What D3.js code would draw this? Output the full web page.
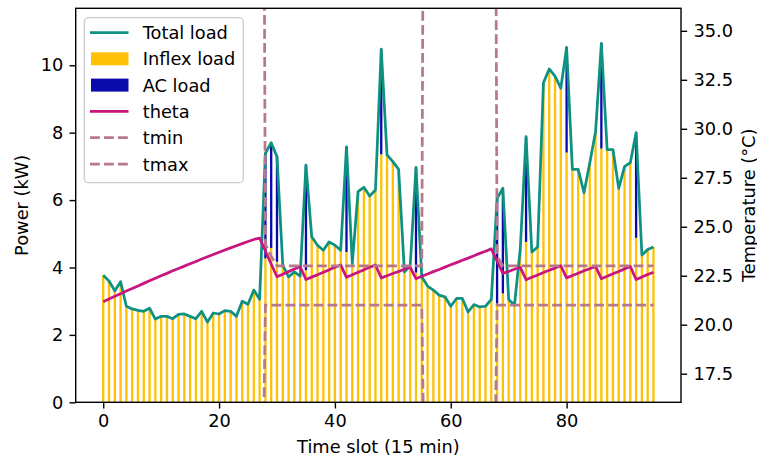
<!DOCTYPE html>
<html>
<head>
<meta charset="utf-8">
<script src="https://cdn.jsdelivr.net/npm/d3@7"></script>
<style>
  html, body { margin: 0; padding: 0; background: #fff; }
  svg { display: block; font-family: "DejaVu Sans", sans-serif; }
</style>
</head>
<body>
<svg id="chart" width="757" height="461"></svg>
<script>
// Time slots (15 min each)
const slots = d3.range(96);

// Non-flexible household load per slot (kW)
const inflexLoad = [
  3.77, 3.60, 3.31, 3.58, 2.85, 2.77, 2.73, 2.70, 2.79, 2.47,
  2.55, 2.55, 2.48, 2.61, 2.62, 2.55, 2.48, 2.70, 2.38, 2.65,
  2.62, 2.72, 2.70, 2.55, 3.00, 2.91, 3.33, 3.06, 4.27, 4.58,
  4.17, 4.07, 3.72, 3.87, 3.74, 3.92, 4.91, 4.66, 4.51, 4.76,
  4.66, 4.51, 4.46, 4.12, 6.25, 6.38, 6.12, 6.30, 7.36, 7.34,
  7.14, 6.91, 3.87, 4.05, 3.85, 3.72, 3.45, 3.33, 3.18, 3.13,
  2.85, 3.08, 3.08, 2.68, 2.90, 2.83, 2.85, 3.05, 2.93, 3.23,
  3.05, 2.88, 4.55, 4.76, 4.46, 4.61, 9.48, 9.89, 9.68, 9.32,
  7.41, 6.91, 6.91, 6.22, 7.10, 8.03, 7.53, 7.50, 7.50, 6.35,
  6.99, 7.11, 4.88, 4.37, 4.53, 4.61
];

// Air-conditioner load per slot (kW)
const acLoad = [
  0, 0, 0, 0, 0, 0, 0, 0, 0, 0,
  0, 0, 0, 0, 0, 0, 0, 0, 0, 0,
  0, 0, 0, 0, 0, 0, 0, 0, 3.12, 3.12,
  3.12, 0, 0, 0, 0, 3.12, 0, 0, 0, 0,
  0, 0, 3.12, 0, 0, 0, 0, 0, 3.12, 0,
  0, 0, 0, 0, 3.12, 0, 0, 0, 0, 0,
  0, 0, 0, 0, 0, 0, 0, 0, 3.12, 3.12,
  0, 0, 0, 3.12, 0, 0, 0, 0, 0, 0,
  3.12, 0, 0, 0, 0, 0, 3.12, 0, 0, 0,
  0, 0, 3.12, 0, 0, 0
];

// Indoor temperature (°C)
const theta = [
  21.17, 21.31, 21.45, 21.58, 21.72, 21.85, 21.98, 22.11, 22.24, 22.37,
  22.50, 22.62, 22.75, 22.87, 22.99, 23.11, 23.23, 23.35, 23.47, 23.58,
  23.70, 23.81, 23.92, 24.03, 24.14, 24.25, 24.35, 24.42, 23.76, 23.10,
  22.45, 22.58, 22.71, 22.84, 22.96, 22.31, 22.43, 22.55, 22.68, 22.80,
  22.93, 23.05, 22.42, 22.55, 22.68, 22.80, 22.93, 23.05, 22.39, 22.50,
  22.61, 22.72, 22.83, 22.93, 22.35, 22.47, 22.59, 22.71, 22.82, 22.94,
  23.06, 23.17, 23.29, 23.40, 23.52, 23.64, 23.75, 23.87, 23.25, 22.62,
  22.72, 22.83, 22.93, 22.30, 22.42, 22.54, 22.66, 22.78, 22.89, 23.01,
  22.39, 22.51, 22.63, 22.75, 22.86, 22.98, 22.35, 22.47, 22.60, 22.72,
  22.85, 22.97, 22.31, 22.43, 22.56, 22.68
];

// Comfort band lower bound (°C); 0 where no comfort constraint applies
const tmin = [
  0, 0, 0, 0, 0, 0, 0, 0, 0, 0,
  0, 0, 0, 0, 0, 0, 0, 0, 0, 0,
  0, 0, 0, 0, 0, 0, 0, 0, 21, 21,
  21, 21, 21, 21, 21, 21, 21, 21, 21, 21,
  21, 21, 21, 21, 21, 21, 21, 21, 21, 21,
  21, 21, 21, 21, 21, 21, 0, 0, 0, 0,
  0, 0, 0, 0, 0, 0, 0, 0, 21, 21,
  21, 21, 21, 21, 21, 21, 21, 21, 21, 21,
  21, 21, 21, 21, 21, 21, 21, 21, 21, 21,
  21, 21, 21, 21, 21, 21
];

// Comfort band upper bound (°C); 100 where no comfort constraint applies
const tmax = [
  100, 100, 100, 100, 100, 100, 100, 100, 100, 100,
  100, 100, 100, 100, 100, 100, 100, 100, 100, 100,
  100, 100, 100, 100, 100, 100, 100, 100, 24.1, 23.5,
  23, 23, 23, 23, 23, 23, 23, 23, 23, 23,
  23, 23, 23, 23, 23, 23, 23, 23, 23, 23,
  23, 23, 23, 23, 23, 23, 100, 100, 100, 100,
  100, 100, 100, 100, 100, 100, 100, 100, 23.5, 23,
  23, 23, 23, 23, 23, 23, 23, 23, 23, 23,
  23, 23, 23, 23, 23, 23, 23, 23, 23, 23,
  23, 23, 23, 23, 23, 23
];

// Axis ticks
const xTicks = [0, 20, 40, 60, 80];
const powerTicks = [0, 2, 4, 6, 8, 10];
const tempTicks = [17.5, 20.0, 22.5, 25.0, 27.5, 30.0, 32.5, 35.0];

// Styling
const colors = {
  total: "#0e9180",
  inflex: "#ffc107",
  ac: "#0a0aaa",
  theta: "#c8157f",
  band: "#b5788d"
};
const FS = 17.8;
const LW = 2.75;
const DASH = "9.8,4.2";

const plot = { left: 75.7, right: 681, top: 8.3, bottom: 402.3 };

const svg = d3.select("#chart");

const x = d3.scaleLinear().domain([-4.75, 99.75]).range([plot.left, plot.right]);
const y = d3.scaleLinear().domain([0, 11.69]).range([plot.bottom, plot.top]);
const y2 = d3.scaleLinear().domain([16.04, 36.15]).range([plot.bottom, plot.top]);

svg.append("defs").append("clipPath").attr("id", "plotClip")
  .append("rect")
  .attr("x", plot.left).attr("y", plot.top)
  .attr("width", plot.right - plot.left).attr("height", plot.bottom - plot.top);

const data = slots.map(i => ({
  t: i,
  inflex: inflexLoad[i],
  ac: acLoad[i],
  total: inflexLoad[i] + acLoad[i],
  theta: theta[i],
  tmin: tmin[i],
  tmax: tmax[i]
}));

const g = svg.append("g").attr("clip-path", "url(#plotClip)");
const barW = 0.4;

// Inflexible load bars
g.append("g").selectAll("rect").data(data).join("rect")
  .attr("x", d => x(d.t - barW / 2))
  .attr("width", x(barW) - x(0))
  .attr("y", d => y(d.inflex))
  .attr("height", d => y(0) - y(d.inflex))
  .attr("fill", colors.inflex);

// AC load stacked on top
g.append("g").selectAll("rect").data(data.filter(d => d.ac > 0)).join("rect")
  .attr("x", d => x(d.t - barW / 2))
  .attr("width", x(barW) - x(0))
  .attr("y", d => y(d.inflex + d.ac))
  .attr("height", d => y(d.inflex) - y(d.inflex + d.ac))
  .attr("fill", colors.ac);

// Total load line
g.append("path").datum(data)
  .attr("fill", "none")
  .attr("stroke", colors.total)
  .attr("stroke-width", LW)
  .attr("stroke-linejoin", "round")
  .attr("d", d3.line().x(d => x(d.t)).y(d => y(d.total)));

// Temperature lines (right axis)
g.append("path").datum(data)
  .attr("fill", "none")
  .attr("stroke", colors.theta)
  .attr("stroke-width", LW)
  .attr("stroke-linejoin", "round")
  .attr("d", d3.line().x(d => x(d.t)).y(d => y2(d.theta)));

["tmin", "tmax"].forEach(key => {
  g.append("path").datum(data)
    .attr("fill", "none")
    .attr("stroke", colors.band)
    .attr("stroke-width", LW)
    .attr("stroke-dasharray", DASH)
    .attr("d", d3.line().x(d => x(d.t)).y(d => y2(d[key])));
});

// Axes
function styleAxis(sel) {
  sel.select(".domain").remove();
  sel.selectAll(".tick line").attr("stroke", "#000").attr("stroke-width", 1.4);
  sel.selectAll(".tick text").attr("fill", "#000").style("font-size", FS + "px")
    .style("font-family", "'DejaVu Sans', sans-serif");
}

svg.append("g")
  .attr("transform", `translate(0,${plot.bottom})`)
  .call(d3.axisBottom(x).tickValues(xTicks).tickSize(6.2).tickPadding(6.2).tickFormat(d3.format("d")))
  .call(styleAxis);

svg.append("g")
  .attr("transform", `translate(${plot.left},0)`)
  .call(d3.axisLeft(y).tickValues(powerTicks).tickSize(6.2).tickPadding(6.2).tickFormat(d3.format("d")))
  .call(styleAxis);

svg.append("g")
  .attr("transform", `translate(${plot.right},0)`)
  .call(d3.axisRight(y2).tickValues(tempTicks).tickSize(6.2).tickPadding(6.2).tickFormat(d3.format(".1f")))
  .call(styleAxis);

// Frame
svg.append("rect")
  .attr("x", plot.left).attr("y", plot.top)
  .attr("width", plot.right - plot.left).attr("height", plot.bottom - plot.top)
  .attr("fill", "none").attr("stroke", "#000").attr("stroke-width", 1.4);

// Axis labels
const midY = (plot.top + plot.bottom) / 2;
svg.append("text")
  .attr("x", (plot.left + plot.right) / 2).attr("y", 452.5)
  .attr("text-anchor", "middle").style("font-size", FS + "px")
  .text("Time slot (15 min)");

svg.append("text")
  .attr("transform", `translate(27.8,${midY}) rotate(-90)`)
  .attr("text-anchor", "middle").style("font-size", FS + "px")
  .text("Power (kW)");

svg.append("text")
  .attr("transform", `translate(754.5,${midY}) rotate(-90)`)
  .attr("text-anchor", "middle").style("font-size", FS + "px")
  .text("Temperature (°C)");

// Legend
const legendItems = [
  { label: "Total load", type: "line", color: colors.total },
  { label: "Inflex load", type: "patch", color: colors.inflex },
  { label: "AC load", type: "patch", color: colors.ac },
  { label: "theta", type: "line", color: colors.theta },
  { label: "tmin", type: "dash", color: colors.band },
  { label: "tmax", type: "dash", color: colors.band }
];

const legend = svg.append("g");
legend.append("rect")
  .attr("x", 84.3).attr("y", 17.7)
  .attr("width", 159).attr("height", 165)
  .attr("rx", 4).attr("ry", 4)
  .attr("fill", "#fff").attr("fill-opacity", 0.8)
  .attr("stroke", "#cccccc").attr("stroke-width", 1.3);

legendItems.forEach((item, i) => {
  const cy = 32.5 + i * 26.3;
  if (item.type === "patch") {
    legend.append("rect")
      .attr("x", 91).attr("y", cy - 6.5)
      .attr("width", 37.5).attr("height", 13)
      .attr("fill", item.color);
  } else {
    legend.append("line")
      .attr("x1", 90).attr("x2", 128.5)
      .attr("y1", cy).attr("y2", cy)
      .attr("stroke", item.color)
      .attr("stroke-width", LW)
      .attr("stroke-dasharray", item.type === "dash" ? DASH : null);
  }
  legend.append("text")
    .attr("x", 142.7).attr("y", cy).attr("dy", "0.37em")
    .style("font-size", FS + "px")
    .text(item.label);
});
</script>
</body>
</html>
